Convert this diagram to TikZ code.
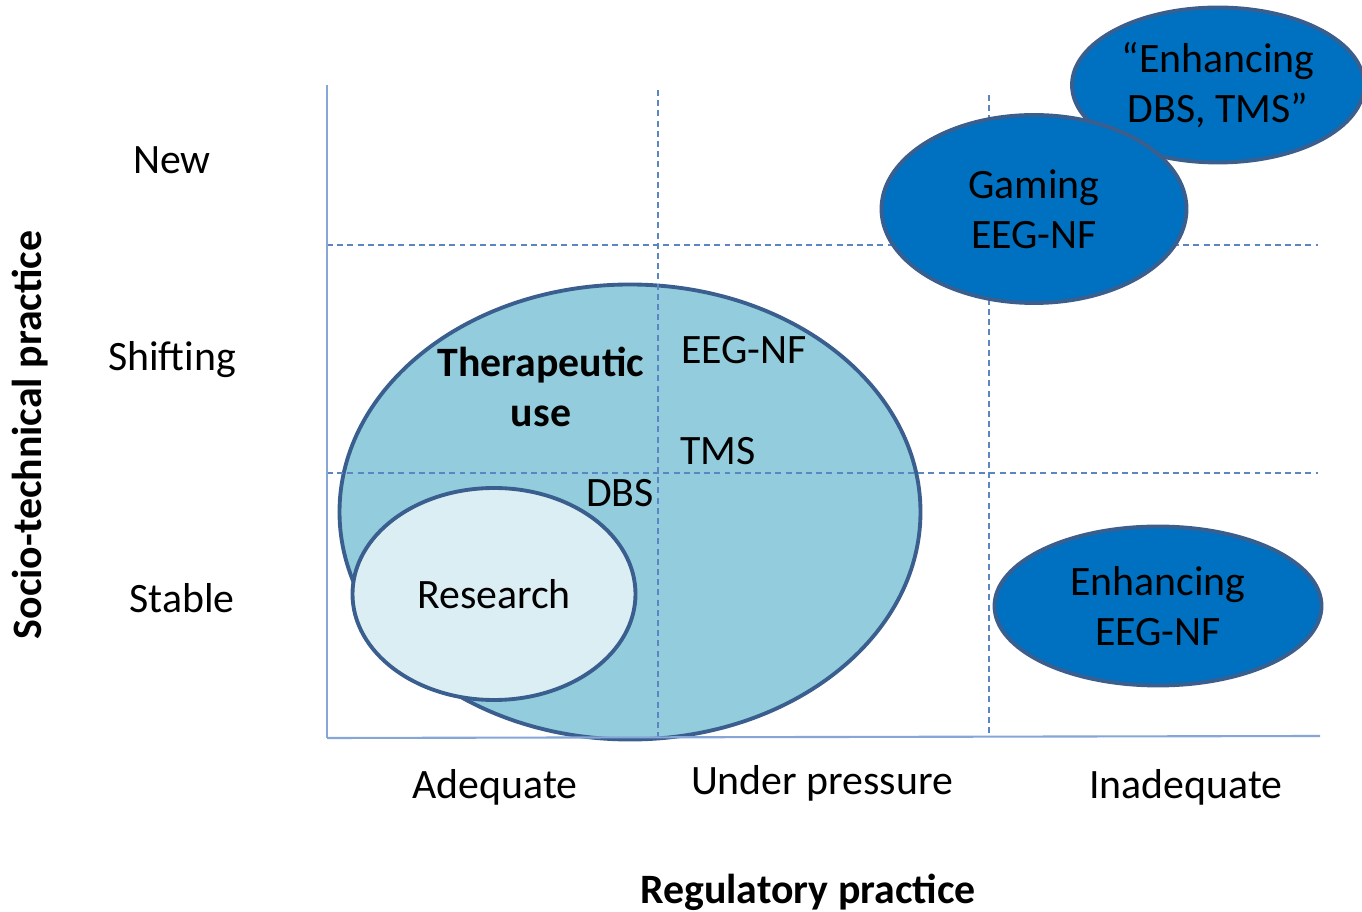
\documentclass[tikz,border=0pt]{standalone}
\usepackage{fontspec}
\setmainfont{Carlito}
\usepackage{xcolor}
\usetikzlibrary{shapes.geometric}

\definecolor{gridblue}{HTML}{5B86C2}
\definecolor{axisblue}{HTML}{85A6D6}
\definecolor{edgeblue}{HTML}{3A5F8E}
\definecolor{therapfill}{HTML}{93CDDD}
\definecolor{researchfill}{HTML}{DBEEF4}
\definecolor{darkfill}{HTML}{0070C0}

\tikzset{
	bubble/.style={ellipse, draw=edgeblue, line width=1.1pt, inner sep=0pt, align=center},
	gridline/.style={gridblue, line width=0.4pt, dash pattern=on 1.7pt off 1.2pt},
	axisline/.style={axisblue, line width=0.6pt},
}

\begin{document}
\begin{tikzpicture}[font=\fontsize{11.9}{14.2}\selectfont]
		\useasboundingbox (0,0) rectangle (13.62,9.12);

		% light areas
		\node[bubble, fill=therapfill, minimum width=5.81cm, minimum height=4.55cm] (therap) at (6.30,4.00) {};
		\node[bubble, fill=researchfill, minimum width=2.83cm, minimum height=2.12cm] (research) at (4.94,3.18) {Research};

		% grid
		\draw[gridline] (6.58,8.22) -- (6.58,1.75);
		\draw[gridline] (9.89,8.17) -- (9.89,1.75);
		\draw[gridline] (3.27,6.67) -- (13.18,6.67);
		\draw[gridline] (3.27,4.39) -- (13.18,4.39);

		% axes
		\draw[axisline] (3.27,8.27) -- (3.27,1.74);
		\draw[axisline] (3.27,1.74) -- (13.20,1.76);

		% dark areas
		\node[bubble, fill=darkfill, minimum width=2.92cm, minimum height=1.55cm] (enhdbs) at (12.18,8.27) {``Enhancing\\DBS, TMS''};
		\node[bubble, fill=darkfill, minimum width=3.05cm, minimum height=1.88cm] (gaming) at (10.34,7.03) {Gaming\\EEG-NF};
		\node[bubble, fill=darkfill, minimum width=3.27cm, minimum height=1.59cm] (enheeg) at (11.58,3.06) {Enhancing\\EEG-NF};

		% labels inside
		\node[align=center, font=\fontsize{11.9}{14.2}\selectfont\bfseries] (theruse) at (5.41,5.25) {Therapeutic\\use};
		\node (eegnf) at (7.44,5.62) {EEG-NF};
		\node (tms) at (7.18,4.61) {TMS};
		\node (dbs) at (6.20,4.19) {DBS};

		% row labels
		\node (new) at (1.72,7.52) {New};
		\node (shift) at (1.72,5.52) {Shifting};
		\node (stable) at (1.82,3.14) {Stable};

		% column labels
		\node (adeq) at (4.95,1.25) {Adequate};
		\node (press) at (8.22,1.29) {Under pressure};
		\node (inadeq) at (11.86,1.25) {Inadequate};

		% axis titles
		\node[font=\fontsize{11.9}{14.2}\selectfont\bfseries] (regprac) at (8.08,0.20) {Regulatory practice};
		\node[rotate=90, font=\fontsize{11.9}{14.2}\selectfont\bfseries] (socprac) at (0.30,4.77) {Socio-technical practice};
\end{tikzpicture}
\end{document}
